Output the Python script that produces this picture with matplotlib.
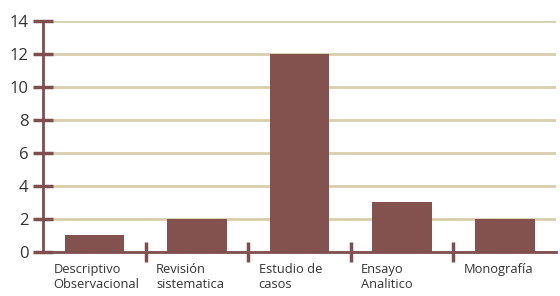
import matplotlib
matplotlib.use("Agg")
import matplotlib.pyplot as plt
import numpy as np

# datos del grafico
categorias = ["Descriptivo\nObservacional", "Revisión\nsistematica", "Estudio de\ncasos",
              "Ensayo\nAnalitico", "Monografía"]
valores = [1, 2, 12, 3, 2]
ticks_y = [0, 2, 4, 6, 8, 10, 12, 14]

color_barra = "#83524f"
color_eje = "#7f4e4e"
color_rejilla = "#d6cead"

plt.rcParams["font.family"] = ["Open Sans", "DejaVu Sans"]

fig = plt.figure(figsize=(5.6, 2.96), dpi=100)
ax = fig.add_axes([0.077, 0.149, 0.916, 0.780])

x = np.arange(len(categorias))
ax.bar(x, valores, width=0.58, color=color_barra, zorder=3)

ax.set_xlim(-0.5, len(categorias) - 0.5)
ax.set_ylim(0, 14)
ax.set_yticks(ticks_y)
ax.yaxis.grid(True, color=color_rejilla, linewidth=2, zorder=0)

# etiquetas de categoria alineadas a la izquierda
ax.set_xticks(x - 0.4)
ax.set_xticklabels(categorias, ha="left", fontsize=9.3, color="#333333", linespacing=1.15)
ax.tick_params(axis="x", which="major", length=0, pad=8)
# separadores entre categorias
ax.set_xticks(x[:-1] + 0.5, minor=True)
ax.tick_params(axis="x", which="minor", direction="inout", length=15, width=2.5, color=color_eje)

ax.tick_params(axis="y", direction="inout", length=15, width=2.5, color=color_eje,
               labelsize=12, labelcolor="#333333", pad=3)

for lado in ["top", "right"]:
    ax.spines[lado].set_visible(False)
for lado in ["left", "bottom"]:
    ax.spines[lado].set_color(color_eje)
    ax.spines[lado].set_linewidth(2)
    ax.spines[lado].set_zorder(4)

fig.savefig("out.png", dpi=100)
